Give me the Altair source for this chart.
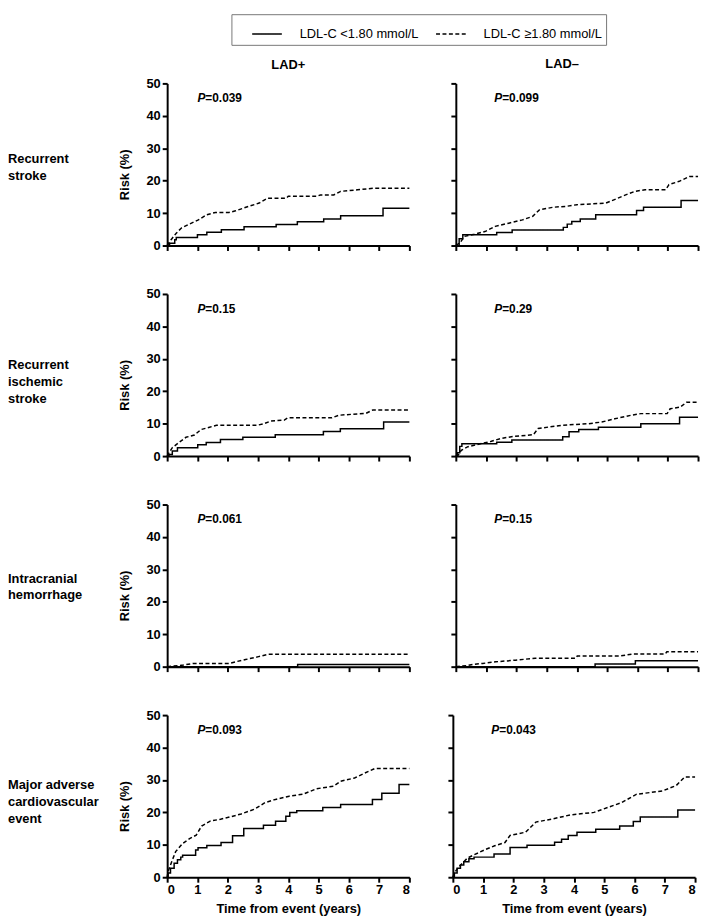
import altair as alt
import pandas as pd

FONT = "Liberation Sans"

# ---------------- data ----------------
groups = ["LDL-C <1.80 mmol/L", "LDL-C \u22651.80 mmol/L"]
col_titles = ["LAD+", "LAD\u2013"]
row_labels = [
    ["Recurrent", "stroke"],
    ["Recurrent", "ischemic", "stroke"],
    ["Intracranial", "hemorrhage"],
    ["Major adverse", "cardiovascular", "event"],
]
row_label_offsets = [-5, -10, -7, -11]
p_values = [["0.039", "0.099"], ["0.15", "0.29"], ["0.061", "0.15"], ["0.093", "0.043"]]
p_pos_t = [1.0, 1.27]
p_pos_r = 45.5
x_ticks = [0, 1, 2, 3, 4, 5, 6, 7, 8]
y_ticks = [0, 10, 20, 30, 40, 50]

# Recurrent stroke
rs_pos_low_t = [0, 0.08, 0.25, 0.3, 1.0, 1.31, 1.79, 2.54, 3.6, 4.3, 5.17, 5.73, 7.13, 8]
rs_pos_low_r = [0, 0.7, 1.8, 2.5, 3.3, 4.1, 4.9, 5.8, 6.5, 7.3, 8.2, 9.2, 11.5, 11.5]
rs_pos_high_t = [0, 0.13, 0.3, 0.47, 0.69, 1.03, 1.31, 1.59, 2.04, 2.26, 2.6, 3.04, 3.32, 3.94, 4.0, 4.94, 5.06, 5.5, 5.73, 6.29, 6.85, 8]
rs_pos_high_r = [0, 1.8, 3.8, 5.4, 6.4, 7.9, 9.5, 10.2, 10.2, 10.7, 11.8, 13.1, 14.6, 14.6, 15.2, 15.2, 15.6, 15.6, 16.7, 17.2, 17.7, 17.7]
rs_neg_low_t = [0, 0.11, 0.23, 1.35, 1.86, 3.55, 3.68, 3.83, 4.11, 4.62, 5.97, 6.2, 7.44, 8]
rs_neg_low_r = [0, 2.1, 3.3, 4.0, 4.8, 5.6, 6.6, 7.4, 8.2, 9.5, 10.8, 11.8, 13.9, 13.9]
rs_neg_high_t = [0, 0.15, 0.28, 0.62, 0.96, 1.3, 1.75, 2.2, 2.54, 2.76, 3.21, 3.66, 4.0, 4.45, 4.96, 5.35, 5.63, 5.92, 6.25, 6.93, 7.04, 7.38, 7.72, 8]
rs_neg_high_r = [0, 1.0, 2.8, 3.5, 4.3, 5.9, 6.9, 7.9, 9.0, 11.0, 11.8, 12.1, 12.6, 12.8, 13.1, 14.6, 15.7, 16.7, 17.2, 17.2, 18.8, 19.8, 21.3, 21.3]

# Recurrent ischemic stroke
ris_pos_low_t = [0, 0.06, 0.17, 0.34, 1.01, 1.29, 1.76, 2.5, 3.57, 5.16, 5.72, 7.15, 8]
ris_pos_low_r = [0, 0.5, 1.6, 2.6, 3.5, 4.2, 5.1, 5.8, 6.6, 7.6, 8.4, 10.5, 10.5]
ris_pos_high_t = [0, 0.06, 0.17, 0.39, 0.62, 0.9, 1.12, 1.4, 1.63, 2.97, 3.2, 3.42, 3.87, 3.98, 5.44, 5.67, 6.57, 6.79, 8]
ris_pos_high_r = [0, 1.0, 2.6, 4.2, 5.8, 6.5, 8.2, 8.9, 9.5, 9.5, 10.0, 10.8, 11.1, 11.8, 11.8, 12.6, 13.2, 14.2, 14.2]
ris_neg_low_t = [0, 0.05, 0.13, 0.2, 1.35, 1.85, 3.53, 3.74, 4.06, 4.71, 6.11, 7.39, 8]
ris_neg_low_r = [0, 1.0, 3.0, 3.8, 4.3, 5.0, 6.0, 7.5, 8.2, 8.9, 10.0, 12.0, 12.0]
ris_neg_high_t = [0, 0.08, 0.18, 0.4, 0.72, 1.15, 1.48, 1.91, 2.34, 2.56, 2.72, 3.09, 3.53, 4.39, 4.82, 5.25, 5.79, 6.11, 6.98, 7.08, 7.41, 7.62, 8]
ris_neg_high_r = [0, 0.3, 1.8, 2.9, 3.6, 4.5, 5.4, 6.1, 6.4, 6.6, 8.5, 9.0, 9.5, 10.0, 10.5, 11.5, 12.6, 13.1, 13.1, 14.6, 15.1, 16.6, 16.6]

# Intracranial hemorrhage
ich_pos_low_t = [0, 4.31, 8]
ich_pos_low_r = [0, 0.7, 0.7]
ich_pos_high_t = [0, 0.54, 0.86, 2.05, 2.26, 2.59, 3.02, 3.34, 8]
ich_pos_high_r = [0, 0.5, 1.0, 1.0, 1.5, 2.2, 3.1, 3.8, 3.8]
ich_neg_low_t = [0, 4.6, 5.93, 8]
ich_neg_low_r = [0, 0.8, 1.8, 1.8]
ich_neg_high_t = [0, 0.36, 0.57, 0.89, 1.32, 1.97, 2.62, 3.96, 4.01, 5.41, 5.84, 6.92, 6.97, 8]
ich_neg_high_r = [0, 0.3, 0.7, 1.0, 1.5, 2.0, 2.6, 2.6, 3.3, 3.3, 3.9, 3.9, 4.6, 4.6]

# Major adverse cardiovascular event
mace_pos_low_t = [0, 0.03, 0.11, 0.23, 0.34, 0.45, 0.51, 0.94, 1.02, 1.31, 1.78, 2.16, 2.53, 3.18, 3.58, 3.92, 4.05, 4.28, 5.14, 5.73, 6.78, 7.09, 7.66, 8]
mace_pos_low_r = [0, 1.3, 2.8, 4.3, 5.4, 6.2, 6.8, 8.4, 9.1, 9.8, 10.7, 12.8, 15.0, 16.0, 17.3, 18.8, 20.0, 20.5, 21.5, 22.4, 24.0, 25.9, 28.6, 28.6]
mace_pos_high_t = [0, 0.03, 0.15, 0.28, 0.51, 0.74, 0.96, 1.14, 1.42, 1.76, 1.99, 2.44, 2.89, 3.23, 3.58, 4.03, 4.48, 4.94, 5.5, 5.73, 6.19, 6.5, 6.85, 8]
mace_pos_high_r = [0, 1.8, 4.8, 7.9, 10.4, 11.9, 13.0, 15.8, 17.3, 17.9, 18.4, 19.5, 21.0, 23.0, 24.0, 25.0, 25.6, 27.3, 28.1, 29.6, 30.6, 32.0, 33.5, 33.5]
mace_neg_low_t = [0, 0.05, 0.14, 0.25, 0.36, 0.53, 0.7, 1.36, 1.89, 2.45, 3.36, 3.59, 3.81, 4.1, 4.72, 5.51, 5.96, 6.19, 7.43, 8]
mace_neg_low_r = [0, 1.3, 2.8, 3.8, 4.8, 5.7, 6.2, 7.2, 9.2, 9.9, 10.8, 11.7, 12.9, 13.9, 14.8, 15.8, 17.2, 18.6, 20.7, 20.7]
mace_neg_high_t = [0, 0.05, 0.16, 0.31, 0.48, 0.7, 1.04, 1.38, 1.72, 1.89, 2.4, 2.74, 3.3, 3.87, 4.66, 5.11, 5.57, 6.07, 6.92, 7.38, 7.66, 8]
mace_neg_high_r = [0, 1.3, 2.8, 4.3, 5.9, 6.9, 8.4, 9.7, 10.7, 12.9, 13.9, 17.0, 18.0, 19.2, 20.0, 21.5, 23.0, 25.6, 26.6, 28.3, 30.9, 30.9]

curves = [
    [(rs_pos_low_t, rs_pos_low_r, rs_pos_high_t, rs_pos_high_r),
     (rs_neg_low_t, rs_neg_low_r, rs_neg_high_t, rs_neg_high_r)],
    [(ris_pos_low_t, ris_pos_low_r, ris_pos_high_t, ris_pos_high_r),
     (ris_neg_low_t, ris_neg_low_r, ris_neg_high_t, ris_neg_high_r)],
    [(ich_pos_low_t, ich_pos_low_r, ich_pos_high_t, ich_pos_high_r),
     (ich_neg_low_t, ich_neg_low_r, ich_neg_high_t, ich_neg_high_r)],
    [(mace_pos_low_t, mace_pos_low_r, mace_pos_high_t, mace_pos_high_r),
     (mace_neg_low_t, mace_neg_low_r, mace_neg_high_t, mace_neg_high_r)],
]

PW, PH = 245, 164


def panel(row, col):
    lt, lr, ht, hr = curves[row][col]
    lo = pd.DataFrame({"t": lt, "r": lr, "g": groups[0]})
    hi = pd.DataFrame({"t": ht, "r": hr, "g": groups[1]})
    last = row == 3
    if last:
        xaxis = alt.Axis(values=x_ticks, title="Time from event (years)", titlePadding=7,
                         labelPadding=1)
    else:
        xaxis = alt.Axis(values=x_ticks, labels=False, title=None)
    if col == 0:
        yaxis = alt.Axis(values=y_ticks, title="Risk (%)", titleX=-36, titleY=PH / 2 + 10,
                         titleBaseline="bottom")
    else:
        yaxis = alt.Axis(values=y_ticks, labels=False, title=None)
    x_enc = alt.X("t:Q", scale=alt.Scale(domain=[0, 8], nice=False), axis=xaxis)
    y_enc = alt.Y("r:Q", scale=alt.Scale(domain=[0, 50], nice=False), axis=yaxis)
    dash = alt.StrokeDash(
        "g:N",
        scale=alt.Scale(domain=groups, range=[[1, 0], [4, 2.5]]),
        legend=alt.Legend(title=None),
    )
    solid = alt.Chart(lo).mark_line(interpolate="step-after", color="black", strokeWidth=1.5).encode(
        x=x_enc, y=y_enc, strokeDash=dash)
    dashed = alt.Chart(hi).mark_line(color="black", strokeWidth=1.5).encode(
        x=x_enc, y=y_enc, strokeDash=dash)
    ptxt = pd.DataFrame({"t": [p_pos_t[col]], "r": [p_pos_r], "p": ["P"],
                         "v": ["=" + p_values[row][col]]})
    pmark = alt.Chart(ptxt).mark_text(align="left", baseline="middle", fontSize=12, fontWeight="bold",
                                       fontStyle="italic", font=FONT, color="black").encode(
        x=x_enc, y=y_enc, text="p:N")
    vmark = alt.Chart(ptxt).mark_text(align="left", baseline="middle", fontSize=12, fontWeight="bold",
                                       font=FONT, color="black", dx=8).encode(
        x=x_enc, y=y_enc, text="v:N")
    ch = alt.layer(solid, dashed, pmark, vmark)
    if row == 0:
        ch = ch.properties(width=PW, height=PH, title=alt.TitleParams(
            text=col_titles[col], fontSize=13, fontWeight="bold", font=FONT, color="black",
            frame="group", offset=(6 if col == 0 else 12), anchor="middle",
            dx=(0 if col == 0 else -15)))
    else:
        ch = ch.properties(width=PW, height=PH)
    return ch


def label_chart(row):
    df = pd.DataFrame({"txt": ["\n".join(row_labels[row])]})
    return alt.Chart(df).mark_text(align="left", baseline="middle", fontSize=13, fontWeight="bold",
                                    font=FONT, color="black", lineHeight=17, lineBreak="\n").encode(
        text="txt:N", x=alt.value(0), y=alt.value(PH / 2 + row_label_offsets[row])
    ).properties(width=100, height=PH)


rows = []
for r in range(4):
    gap = 35 if r == 3 else 38
    rows.append(alt.hconcat(label_chart(r), alt.hconcat(panel(r, 0), panel(r, 1), spacing=gap),
                            spacing=12))

chart = alt.vconcat(*rows, spacing=36).configure(
    font=FONT, padding=0
).configure_view(strokeWidth=0).configure_axis(
    grid=False, domainColor="black", domainWidth=2, tickColor="black", tickWidth=2, tickSize=5,
    labelFont=FONT, labelFontSize=13, labelFontWeight="bold", labelColor="black", labelPadding=2,
    titleFont=FONT, titleFontSize=13, titleFontWeight="bold", titleColor="black"
).configure_legend(
    orient="none", legendX=226, legendY=-70, direction="horizontal",
    strokeColor="#777777", padding=4, fillColor="white",
    symbolType="stroke", symbolSize=900, symbolStrokeWidth=1.5, symbolStrokeColor="black",
    symbolOffset=16, labelFont=FONT, labelFontSize=13, labelColor="black", labelOffset=17,
    columnPadding=0
)

chart.save("out.html", embed_options={"renderer": "svg", "actions": False})
